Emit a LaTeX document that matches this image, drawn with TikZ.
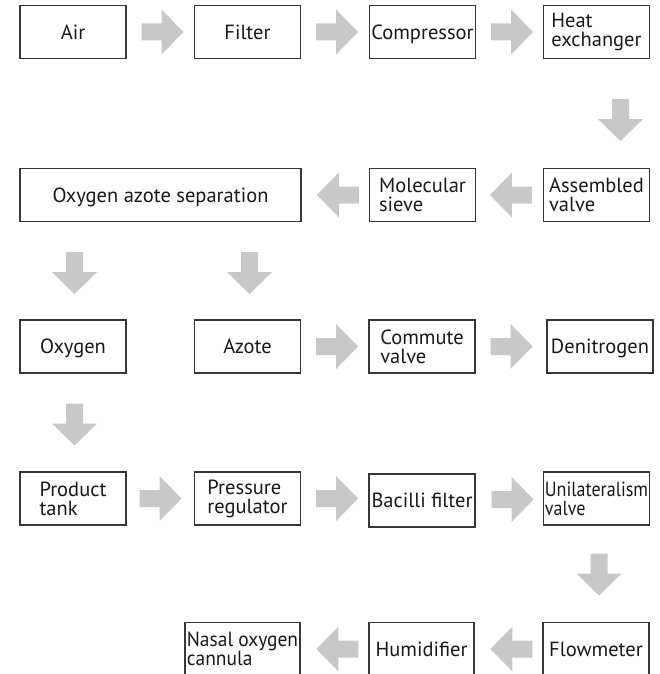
\documentclass[tikz,border=0pt]{standalone}
\usepackage{fontspec}
\setmainfont{PT Sans}
\newfontfamily\narrowA[FakeStretch=0.88]{PT Sans}
\newfontfamily\narrowB[FakeStretch=0.95]{PT Sans}
\usetikzlibrary{calc}
\definecolor{boxline}{RGB}{55,55,55}
\definecolor{arrgray}{RGB}{200,200,200}
\definecolor{txt}{RGB}{25,25,25}
\tikzset{
  box/.style={draw=boxline, line width=1.1pt, minimum width=106pt, minimum height=53pt,
    inner sep=0pt, align=left, text=txt, font=\fontsize{20.5}{19}\selectfont},
  oneline/.style={text height=14.5pt, text depth=0pt},
  barrow/.pic={\fill[arrgray] (0,-8.5) -- (20,-8.5) -- (20,-22.5) -- (42,0) -- (20,22.5) -- (20,8.5) -- (0,8.5) -- cycle;},
}
\begin{document}
\begin{tikzpicture}[x=1pt,y=-1pt]
\useasboundingbox (0,0) rectangle (660,674);
\clip (0,0) rectangle (660,674);
% row 1
\node[box,oneline] (air) at (73,32) {Air};
\node[box,oneline] (fil) at (247.5,32) {Filter};
\node[box,oneline] (com) at (422.5,32) {Compressor};
\node[box] (hex) at (596.5,32) {Heat\\exchanger};
% row 2
\node[box,oneline,minimum width=281pt] (oas) at (160.5,195) {Oxygen azote separation};
\node[box] (mol) at (422.5,195) {Molecular\\sieve};
\node[box] (asv) at (596.5,195) {Assembled\\valve};
% row 3
\node[box,oneline] (oxy) at (73,346.5) {Oxygen};
\node[box,oneline] (azo) at (247.5,346.5) {Azote};
\node[box] (cmv) at (422,346.5) {Commute\\valve};
\node[box,oneline] (den) at (600,346.5) {Denitrogen};
% row 4
\node[box] (ptk) at (73,498.5) {Product\\tank};
\node[box] (prg) at (247.5,498.5) {Pressure\\regulator};
\node[box,oneline] (bac) at (422,500.5) {Bacilli filter};
\node[box,font=\fontsize{20.5}{19}\narrowA] (uni) at (596.5,498.5) {Unilateralism\\valve};
% row 5
\node[box,minimum width=115pt,font=\fontsize{20.5}{19}\narrowB] (noc) at (242.5,649) {Nasal oxygen\\cannula};
\node[box,oneline,minimum width=105pt] (hum) at (421.5,649) {Humidifier};
\node[box,oneline] (flo) at (596,649) {Flowmeter};
% arrows (block arrows placed between named boxes)
\pic at ($(air.east)+(15,0)$) {barrow};
\pic at ($(fil.east)+(15,0)$) {barrow};
\pic at ($(com.east)+(15,0)$) {barrow};
\pic[rotate=-90] at ($(hex.south)+(24,40)$) {barrow};
\pic[rotate=180] at ($(asv.west)+(-11,0)$) {barrow};
\pic[rotate=180] at ($(mol.west)+(-10,0)$) {barrow};
\pic[rotate=-90] at ($(oas.south -| oxy.north)+(1.5,30)$) {barrow};
\pic[rotate=-90] at ($(oas.south -| azo.north)+(2,30)$) {barrow};
\pic at ($(azo.east)+(15,0)$) {barrow};
\pic at ($(cmv.east)+(15,0)$) {barrow};
\pic[rotate=-90] at ($(oxy.south)+(1.5,30)$) {barrow};
\pic at ($(ptk.east)+(13,0)$) {barrow};
\pic at ($(prg.east)+(15,0)$) {barrow};
\pic at ($(bac.east)+(16,-1)$) {barrow};
\pic[rotate=-90] at ($(uni.south)+(2.5,28)$) {barrow};
\pic[rotate=180] at ($(flo.west)+(-10,0)$) {barrow};
\pic[rotate=180] at ($(hum.west)+(-10,0)$) {barrow};
\end{tikzpicture}
\end{document}
